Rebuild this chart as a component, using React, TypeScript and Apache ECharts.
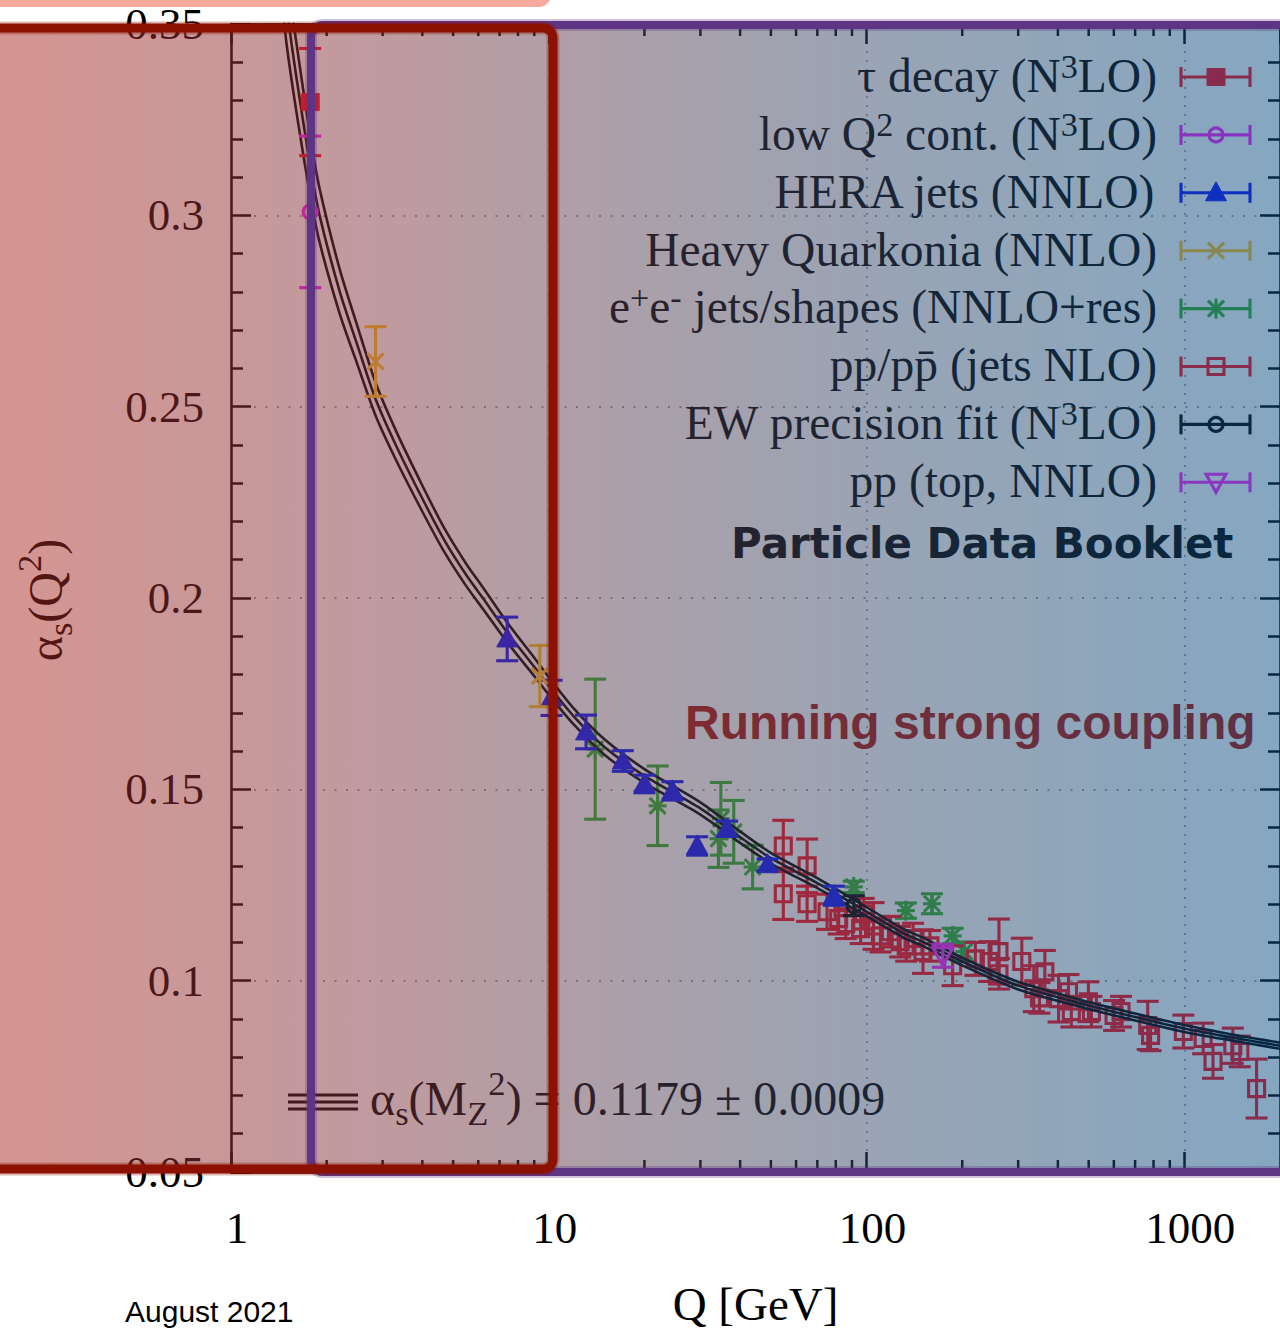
import React, { useEffect, useRef } from 'react';
import * as echarts from 'echarts';

const SERIF = "'Liberation Serif', 'Times New Roman', serif";
const SANS = "'Liberation Sans', Arial, sans-serif";
const DEJAVU = "'DejaVu Sans', sans-serif";

// ---- theory curve ----
const curveQ = [1.45, 1.5, 1.6, 1.775, 1.9, 2.2, 2.5, 2.85, 3.3, 4.0, 4.7, 5.5, 6.2, 7.4, 9.0, 10, 12, 15, 20, 30, 40, 50, 70, 91.2, 130, 150, 200, 300, 500, 700, 1000, 1400, 2000];
const curveAlpha = [0.366, 0.354, 0.337, 0.313, 0.3, 0.28, 0.266, 0.252, 0.24, 0.226, 0.215, 0.206, 0.2, 0.191, 0.182, 0.177, 0.169, 0.161, 0.1535, 0.145, 0.1375, 0.132, 0.1255, 0.12, 0.1125, 0.1102, 0.105, 0.0987, 0.0935, 0.0905, 0.0875, 0.0852, 0.083];
const curveBand = [0.011, 0.01, 0.009, 0.0078, 0.007, 0.0058, 0.005, 0.0043, 0.0038, 0.0034, 0.0031, 0.0029, 0.0028, 0.0026, 0.0024, 0.0023, 0.0021, 0.002, 0.0018, 0.0016, 0.0015, 0.0014, 0.0013, 0.0012, 0.0011, 0.0011, 0.001, 0.001, 0.0009, 0.0009, 0.0009, 0.0008, 0.0008];

// ---- measurements [Q, alpha_s, error] ----
const tauData = [[1.775, 0.3296, 0.014]];
const lowQ2Data = [[1.775, 0.3009, 0.0198]];
const heraData = [
  [7.4, 0.1893, 0.0057], [10.2, 0.1739, 0.0046], [13.1, 0.165, 0.0044], [17.1, 0.1574, 0.0027],
  [20.0, 0.1514, 0.0023], [24.5, 0.1496, 0.0024], [29.3, 0.1352, 0.0024], [36.4, 0.1397, 0.002],
  [48.8, 0.1303, 0.0015], [78.9, 0.1222, 0.0025],
];
const quarkoniaData = [[2.85, 0.2618, 0.0091], [9.37, 0.1796, 0.008]];
const eeData = [
  [14.0, 0.1605, 0.0183], [22.0, 0.1457, 0.0104], [34.8, 0.1423, 0.0095], [34.2, 0.1371, 0.0075],
  [38.2, 0.1389, 0.0082], [43.8, 0.1297, 0.0057], [91.1, 0.1245, 0.0015], [133, 0.1183, 0.002],
  [160.6, 0.1201, 0.0026], [186.6, 0.1117, 0.002], [203, 0.1076, 0.0025],
];
const ppJetsData = [
  [54.7, 0.1352, 0.0067], [54.7, 0.1227, 0.0067], [65.0, 0.13, 0.007], [65.0, 0.1201, 0.0046],
  [75.1, 0.118, 0.0046], [81.7, 0.1162, 0.004], [86.0, 0.1149, 0.0039], [95.8, 0.1136, 0.0039],
  [98.0, 0.1175, 0.004], [105.2, 0.1143, 0.0061], [110.6, 0.1117, 0.0042], [118.8, 0.1128, 0.004],
  [127.6, 0.1102, 0.004], [133.3, 0.1091, 0.004], [140.1, 0.111, 0.004], [150.5, 0.1076, 0.0057],
  [158.3, 0.1091, 0.004], [186.6, 0.1039, 0.0052], [220, 0.1057, 0.0043], [243, 0.105, 0.0052],
  [261, 0.1076, 0.0085], [261, 0.1018, 0.004], [308, 0.105, 0.0061], [336, 0.0979, 0.006],
  [350, 0.0955, 0.004], [364, 0.1023, 0.0056], [402, 0.0953, 0.0061], [432, 0.0971, 0.0045],
  [441, 0.0919, 0.004], [499, 0.0945, 0.0052], [510, 0.0919, 0.004], [601, 0.0909, 0.0039],
  [632, 0.0919, 0.004], [767, 0.0883, 0.0063], [783, 0.0857, 0.004], [993, 0.0867, 0.0043],
  [1146, 0.0849, 0.004], [1231, 0.0789, 0.0044], [1421, 0.083, 0.0046], [1495, 0.0815, 0.004],
  [1688, 0.0718, 0.0077],
];
const ewData = [[91.2, 0.1196, 0.0026]];
const topData = [[173.8, 0.1065, 0.003]];

const xTickLabels = [1, 10, 100, 1000];
const minorTickQ = [2, 3, 4, 5, 6, 7, 8, 9, 20, 30, 40, 50, 60, 70, 80, 90, 200, 300, 400, 500, 600, 700, 800, 900];

type Part = { t: string; sup?: boolean; sub?: boolean };

const legendLabels: Part[][] = [
  [{ t: 'τ decay (N' }, { t: '3', sup: true }, { t: 'LO)' }],
  [{ t: 'low Q' }, { t: '2', sup: true }, { t: ' cont. (N' }, { t: '3', sup: true }, { t: 'LO)' }],
  [{ t: 'HERA jets (NNLO)' }],
  [{ t: 'Heavy Quarkonia (NNLO)' }],
  [{ t: 'e' }, { t: '+', sup: true }, { t: 'e' }, { t: '-', sup: true }, { t: ' jets/shapes (NNLO+res)' }],
  [{ t: 'pp/pp\u0304 (jets NLO)' }],
  [{ t: 'EW precision fit (N' }, { t: '3', sup: true }, { t: 'LO)' }],
  [{ t: 'pp (top, NNLO)' }],
];
const yTitleParts: Part[] = [{ t: 'α' }, { t: 's', sub: true }, { t: '(Q' }, { t: '2', sup: true }, { t: ')' }];
const mzParts: Part[] = [{ t: 'α' }, { t: 's', sub: true }, { t: '(M' }, { t: 'Z', sub: true }, { t: '2', sup: true }, { t: ') = 0.1179 ± 0.0009' }];

const pointSets = [
  { data: tauData, kind: 'fsq', color: '#ff0a1e', z: 4 },
  { data: lowQ2Data, kind: 'ocirc', color: '#ff18ff', z: 4 },
  { data: heraData, kind: 'ftri', color: '#0a10ff', z: 4 },
  { data: quarkoniaData, kind: 'cross', color: '#ffc020', z: 4 },
  { data: eeData, kind: 'star', color: '#30b028', z: 2 },
  { data: ppJetsData, kind: 'osq', color: '#ff0a18', z: 2 },
  { data: ewData, kind: 'ocirc', color: '#000000', z: 5 },
  { data: topData, kind: 'otri', color: '#ff20ff', z: 4 },
];

let measureCtx: CanvasRenderingContext2D | null = null;
function textWidth(t: string, size: number, family: string, weight = 'normal') {
  if (!measureCtx) measureCtx = document.createElement('canvas').getContext('2d');
  measureCtx!.font = `${weight} ${size}px ${family}`;
  return measureCtx!.measureText(t).width;
}

function richText(parts: Part[], x: number, baseline: number, size: number, family: string, align: string, fill: string, z: number, supRaise: number) {
  const items = parts.map((p) => {
    const s = p.sup || p.sub ? size * 0.72 : size;
    return { ...p, s, w: textWidth(p.t, s, family) };
  });
  const total = items.reduce((a, b) => a + b.w, 0);
  let cx = align === 'left' ? x : align === 'right' ? x - total : x - total / 2;
  const out: any[] = [];
  for (const it of items) {
    const raise = it.sup ? size * supRaise : it.sub ? -size * 0.2 : 0;
    const lead = it.t.length - it.t.replace(/^\s+/, '').length;
    const off = lead ? textWidth(' '.repeat(lead), it.s, family) : 0;
    const txt = it.t.trim();
    if (txt) {
      out.push({
        type: 'text', z, silent: true,
        style: { text: txt, x: cx + off, y: baseline - raise - 0.34 * it.s, fontSize: it.s, fontFamily: family, fill, align: 'left', verticalAlign: 'middle' },
      });
    }
    cx += it.w;
  }
  return out;
}

const LW = 3.1;

function markerShapes(kind: string, x: number, y: number, color: string, z?: number) {
  const open = { stroke: color, lineWidth: LW, fill: 'none' };
  const filled = { fill: color, stroke: color, lineWidth: 1 };
  const L = (x1: number, y1: number, x2: number, y2: number) => ({ type: 'line', shape: { x1, y1, x2, y2 }, style: { stroke: color, lineWidth: LW } });
  let out: any[] = [];
  switch (kind) {
    case 'fsq': out = [{ type: 'rect', shape: { x: x - 9, y: y - 8.5, width: 18, height: 17 }, style: filled }]; break;
    case 'osq': out = [{ type: 'rect', shape: { x: x - 8, y: y - 8, width: 16, height: 16 }, style: open }]; break;
    case 'ocirc': out = [{ type: 'circle', shape: { cx: x, cy: y, r: 7 }, style: open }]; break;
    case 'ftri': out = [{ type: 'polygon', shape: { points: [[x, y - 11], [x - 10.5, y + 8], [x + 10.5, y + 8]] }, style: filled }]; break;
    case 'otri': out = [{ type: 'polygon', shape: { points: [[x - 10, y - 8], [x + 10, y - 8], [x, y + 10]] }, style: open }]; break;
    case 'cross': out = [L(x - 8, y - 8, x + 8, y + 8), L(x - 8, y + 8, x + 8, y - 8)]; break;
    case 'star': out = [L(x - 8, y - 8, x + 8, y + 8), L(x - 8, y + 8, x + 8, y - 8), L(x, y - 10, x, y + 10), L(x - 9, y, x + 9, y)]; break;
  }
  if (z != null) out.forEach((o) => { o.z = z; o.silent = true; });
  return out;
}

function errRender(kind: string, color: string) {
  return (_params: any, api: any) => {
    const q = api.value(0), a = api.value(1), e = api.value(2);
    const c = api.coord([q, a]);
    const hi = api.coord([q, a + e]);
    const lo = api.coord([q, a - e]);
    const st = { stroke: color, lineWidth: LW };
    return {
      type: 'group',
      children: [
        { type: 'line', shape: { x1: c[0], y1: hi[1], x2: c[0], y2: lo[1] }, style: st },
        { type: 'line', shape: { x1: c[0] - 11, y1: hi[1], x2: c[0] + 11, y2: hi[1] }, style: st },
        { type: 'line', shape: { x1: c[0] - 11, y1: lo[1], x2: c[0] + 11, y2: lo[1] }, style: st },
        ...markerShapes(kind, c[0], c[1], color),
      ],
    };
  };
}

function buildGraphic() {
  const els: any[] = [];
  // legend
  legendLabels.forEach((parts, i) => {
    const def = pointSets[i];
    const y = 77 + i * 57.9;
    els.push(...richText(parts, 1157, y + 15, 47.5, SERIF, 'right', '#000', 10, 0.3));
    const st = { stroke: def.color, lineWidth: LW };
    els.push({ type: 'line', z: 10, silent: true, shape: { x1: 1181, y1: y, x2: 1250, y2: y }, style: st });
    els.push({ type: 'line', z: 10, silent: true, shape: { x1: 1181, y1: y - 10, x2: 1181, y2: y + 10 }, style: st });
    els.push({ type: 'line', z: 10, silent: true, shape: { x1: 1250, y1: y - 10, x2: 1250, y2: y + 10 }, style: st });
    els.push(...markerShapes(def.kind, 1216, y, def.color, 10));
  });
  els.push({ type: 'text', z: 10, silent: true, style: { text: 'Particle Data Booklet', x: 731, y: 543, fontFamily: DEJAVU, fontWeight: 'bold', fontSize: 42, fill: '#000', align: 'left', verticalAlign: 'middle' } });
  els.push({ type: 'text', z: 10, silent: true, style: { text: 'Running strong coupling', x: 685, y: 722, fontFamily: SANS, fontWeight: 'bold', fontSize: 48, fill: '#b01208', align: 'left', verticalAlign: 'middle' } });
  // alpha_s(Mz) key
  [1095, 1102, 1109].forEach((yy) => {
    els.push({ type: 'line', z: 10, silent: true, shape: { x1: 288, y1: yy, x2: 358, y2: yy }, style: { stroke: '#000', lineWidth: 3.2 } });
  });
  els.push(...richText(mzParts, 370, 1115, 48, SERIF, 'left', '#000', 10, 0.42));
  // y axis title
  const yt = richText(yTitleParts, 0, 0, 48, SERIF, 'center', '#000', 10, 0.45);
  els.push({ type: 'group', x: 62, y: 600, rotation: Math.PI / 2, children: yt });
  els.push({ type: 'text', z: 10, silent: true, style: { text: 'August 2021', x: 125, y: 1311, fontFamily: SANS, fontSize: 30, fill: '#000', align: 'left', verticalAlign: 'middle' } });
  // colour wash over the plot region
  els.push({
    type: 'rect', z: 100, silent: true,
    shape: { x: -5, y: 26, width: 1290, height: 1144 },
    style: {
      fill: {
        type: 'linear', x: 0, y: 0, x2: 1, y2: 0,
        colorStops: [
          { offset: 0, color: 'rgba(171,43,35,0.5)' },
          { offset: 0.18, color: 'rgba(145,49,51,0.5)' },
          { offset: 0.31, color: 'rgba(125,55,65,0.5)' },
          { offset: 0.5, color: 'rgba(85,65,85,0.5)' },
          { offset: 0.7, color: 'rgba(49,73,107,0.5)' },
          { offset: 1, color: 'rgba(11,79,131,0.5)' },
        ],
      },
    },
  });
  // hand-drawn frames
  const purple = { x: 311, y: 25, width: 1100, height: 1147, r: 12 };
  const red = { x: -40, y: 28, width: 593, height: 1141, r: 10 };
  els.push({ type: 'rect', z: 110, silent: true, shape: purple, style: { fill: 'none', stroke: 'rgba(94,52,132,0.3)', lineWidth: 12 } });
  els.push({ type: 'rect', z: 111, silent: true, shape: purple, style: { fill: 'none', stroke: '#5e3484', lineWidth: 8 } });
  els.push({ type: 'rect', z: 112, silent: true, shape: red, style: { fill: 'none', stroke: 'rgba(140,17,0,0.3)', lineWidth: 13 } });
  els.push({ type: 'rect', z: 113, silent: true, shape: red, style: { fill: 'none', stroke: '#8c1100', lineWidth: 9 } });
  els.push({ type: 'rect', z: 114, silent: true, shape: { x: -20, y: -30, width: 571, height: 37, r: 12 }, style: { fill: '#f8aa9e' } });
  return els;
}

function buildOption() {
  const axisLineStyle = { color: '#000', width: 2.5 };
  const curveCentral = curveQ.map((q, i) => [q, curveAlpha[i]]);
  const curveUpper = curveQ.map((q, i) => [q, curveAlpha[i] + curveBand[i]]);
  const curveLower = curveQ.map((q, i) => [q, curveAlpha[i] - curveBand[i]]);
  const lineSeries = (data: number[][]) => ({
    type: 'line', data, showSymbol: false, smooth: 0.25, z: 3, silent: true,
    lineStyle: { color: '#000', width: 2.6 },
  });
  return {
    animation: false,
    backgroundColor: '#ffffff',
    grid: { left: 231, top: 24, width: 1060, height: 1148 },
    xAxis: [
      {
        type: 'log', logBase: 10, min: 1, max: 2000, position: 'bottom',
        axisLine: { show: true, lineStyle: axisLineStyle },
        axisTick: { show: true, inside: true, length: 20, lineStyle: axisLineStyle },
        axisLabel: {
          fontFamily: SERIF, fontSize: 45, color: '#000', margin: 33, showMaxLabel: false, padding: [0, 0, 0, 12],
          formatter: (v: number) => (xTickLabels.includes(Math.round(v)) ? String(Math.round(v)) : ''),
        },
        splitLine: { show: true, lineStyle: { color: '#a0a0a0', width: 1.8, type: [2, 7] } },
        name: 'Q [GeV]', nameLocation: 'middle', nameGap: 108,
        nameTextStyle: { fontFamily: SERIF, fontSize: 47, color: '#000' },
      },
      {
        type: 'log', logBase: 10, min: 1, max: 2000, position: 'top',
        axisLine: { show: true, lineStyle: axisLineStyle },
        axisTick: { show: true, inside: true, length: 20, lineStyle: axisLineStyle },
        axisLabel: { show: false }, splitLine: { show: false },
      },
    ],
    yAxis: [
      {
        type: 'value', min: 0.05, max: 0.35, interval: 0.05, position: 'left',
        axisLine: { show: true, lineStyle: axisLineStyle },
        axisTick: { show: true, inside: true, length: 20, lineStyle: axisLineStyle },
        minorTick: { show: true, splitNumber: 5, length: 12, lineStyle: axisLineStyle },
        axisLabel: { fontFamily: SERIF, fontSize: 45, color: '#000', margin: 27, formatter: (v: number) => String(+v.toFixed(2)) },
        splitLine: { show: true, lineStyle: { color: '#a0a0a0', width: 1.8, type: [2, 9.5] } },
      },
      {
        type: 'value', min: 0.05, max: 0.35, interval: 0.05, position: 'right',
        axisLine: { show: true, lineStyle: axisLineStyle },
        axisTick: { show: true, inside: true, length: 20, lineStyle: axisLineStyle },
        minorTick: { show: true, splitNumber: 5, length: 12, lineStyle: axisLineStyle },
        axisLabel: { show: false }, splitLine: { show: false },
      },
    ],
    series: [
      {
        type: 'custom', silent: true, z: 1,
        data: minorTickQ.map((q) => [q, 0.05]),
        encode: { x: 0, y: 1 },
        renderItem: (_p: any, api: any) => {
          const q = api.value(0);
          const b = api.coord([q, 0.05]);
          const t = api.coord([q, 0.35]);
          const st = { stroke: '#000', lineWidth: 2.5 };
          return {
            type: 'group',
            children: [
              { type: 'line', shape: { x1: b[0], y1: b[1], x2: b[0], y2: b[1] - 12 }, style: st },
              { type: 'line', shape: { x1: t[0], y1: t[1], x2: t[0], y2: t[1] + 12 }, style: st },
            ],
          };
        },
      },
      ...pointSets.map((s) => ({
        type: 'custom', silent: true, z: s.z,
        data: s.data, dimensions: ['q', 'alpha', 'err'], encode: { x: 0, y: 1 },
        renderItem: errRender(s.kind, s.color),
      })),
      lineSeries(curveUpper),
      lineSeries(curveCentral),
      lineSeries(curveLower),
    ],
    graphic: { elements: buildGraphic() },
  };
}

export default function App() {
  const ref = useRef<HTMLDivElement>(null);
  useEffect(() => {
    document.body.style.margin = '0';
    const chart = echarts.init(ref.current!, undefined, { renderer: 'svg' });
    chart.setOption(buildOption() as any);
    return () => chart.dispose();
  }, []);
  return <div ref={ref} style={{ width: 1280, height: 1333, overflow: 'hidden' }} />;
}
